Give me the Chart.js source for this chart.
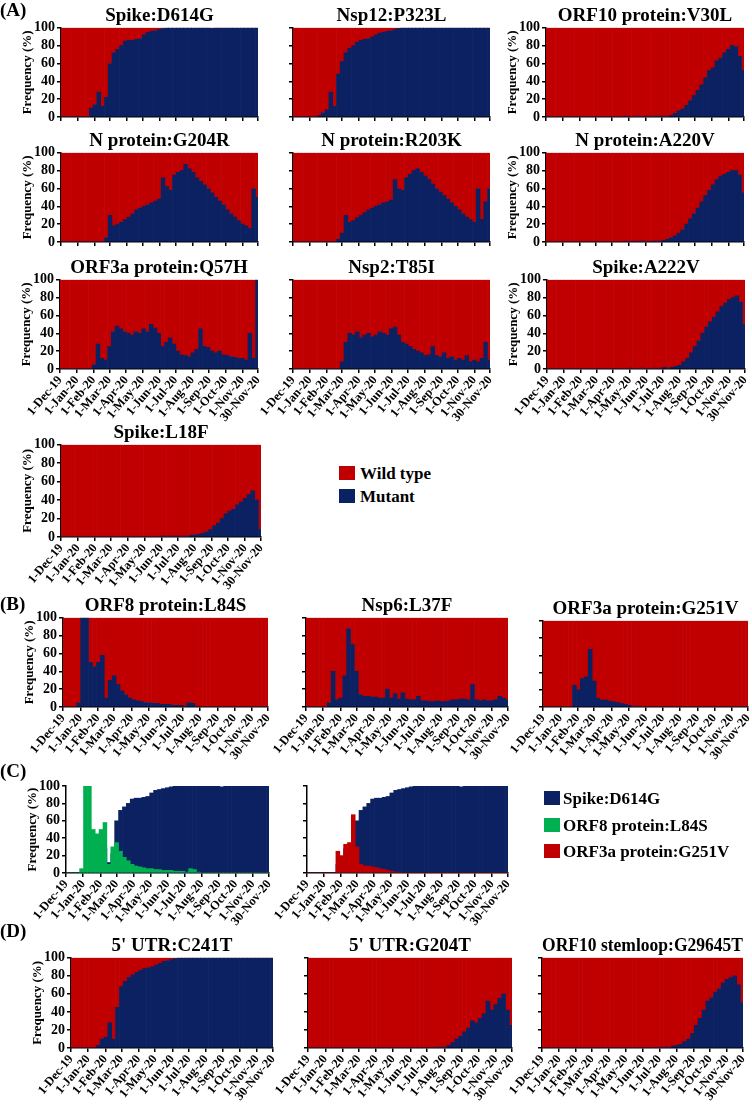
<!DOCTYPE html>
<html><head><meta charset="utf-8">
<script src="https://cdn.jsdelivr.net/npm/chart.js@4.4.0/dist/chart.umd.min.js"></script>
<style>
html,body{margin:0;padding:0;background:#fff;}
#wrap{position:relative;width:752px;height:1107px;overflow:hidden;font-family:'Liberation Serif','Times New Roman',serif;font-weight:bold;color:#000}
canvas{position:absolute}
.lbl{position:absolute;font-size:19px;line-height:1;white-space:nowrap}
.leg{position:absolute;font-size:17px;line-height:1;white-space:nowrap}
.sw{position:absolute;width:16px;height:14px}
</style></head><body><div id="wrap"></div>
<script>
// ---- data (weekly samples, day index from 1-Dec-19) ----
const weekDays = [0,7,14,21,28,35,42,49,56,63,70,77,84,91,98,105,112,119,126,133,140,147,154,161,168,175,182,189,196,203,210,217,224,231,238,245,252,259,266,273,280,287,294,301,308,315,322,329,336,343,350,357,364];
const tickDays = [0,31,62,91,122,152,183,213,244,275,305,336,365];
const tickLabels = ["1-Dec-19","1-Jan-20","1-Feb-20","1-Mar-20","1-Apr-20","1-May-20","1-Jun-20","1-Jul-20","1-Aug-20","1-Sep-20","1-Oct-20","1-Nov-20","30-Nov-20"];

const spikeD614G = [0,0,0,0,0,0,0,0,10,14,28,12,22,60,72,76,80,85,86,86,87,88,92,95,96,97,98,99,100,100,100,100,100,100,100,100,100,100,100,100,99,100,100,100,100,100,100,100,100,100,100,100,100];
const nsp12P323L = [0,0,0,0,0,0,0,2,5,8,28,12,48,62,72,77,80,84,86,87,88,90,92,94,95,96,97,98,99,100,100,100,100,100,100,100,100,100,100,100,100,100,100,100,100,100,100,100,100,100,100,100,100];
const orf10V30L = [0,0,0,0,0,0,0,0,0,0,0,0,0,0,0,0,0,0,0,0,0,1,0,0,1,0,0,1,0,1,1,1,1,2,4,7,9,13,18,24,30,36,44,52,55,63,66,72,76,80,79,68,52];
const nG204R = [0,0,0,0,0,0,0,0,0,0,0,0,5,30,18,20,22,25,28,32,36,38,40,42,44,46,48,72,62,58,75,78,80,87,82,78,72,68,64,60,55,50,46,42,36,32,28,24,20,18,15,60,50];
const nR203K = [0,0,0,0,0,0,0,0,0,0,0,0,3,10,30,22,24,27,30,33,36,38,40,42,44,45,47,70,60,58,72,76,80,82,78,74,70,65,60,56,52,48,44,40,36,32,28,25,22,60,25,45,60];
const nA220V = [0,0,0,0,0,0,0,0,0,0,0,0,0,0,0,0,0,0,0,0,0,1,0,1,0,1,1,0,1,1,1,2,3,5,7,10,14,20,26,32,38,45,52,58,64,70,74,76,78,80,80,75,55];
const orf3aQ57H = [0,0,0,0,0,0,0,0,0,5,28,12,10,25,42,48,45,42,40,38,42,40,45,42,50,46,40,25,30,35,28,20,16,15,14,18,22,45,25,24,20,18,20,16,15,14,13,12,12,10,40,12,100];
const nsp2T85I = [0,0,0,0,0,0,0,0,0,0,0,0,0,8,30,40,38,42,35,38,40,36,38,42,40,38,45,47,38,30,28,25,22,20,18,15,16,25,15,14,18,12,14,10,12,10,15,8,10,8,12,30,10];
const spikeA222V = [0,0,0,0,0,0,0,0,0,0,0,0,0,0,0,0,0,0,0,0,0,0,1,0,0,1,0,0,1,0,1,2,1,2,3,4,8,12,18,25,32,40,47,53,58,64,70,74,78,80,82,75,50];
const spikeL18F = [0,0,0,0,0,0,0,0,0,0,0,0,0,0,0,0,0,0,0,0,0,0,0,0,0,0,1,1,1,1,1,1,1,1,2,2,3,4,6,8,12,15,20,25,28,30,35,38,42,46,50,40,8];
const orf8L84S = [0,0,0,0,5,100,100,50,45,50,58,10,30,35,25,18,14,10,8,7,6,5,5,4,4,3,3,3,2,2,2,1,5,4,1,0,0,0,0,0,0,0,0,0,0,0,0,0,0,0,0,0,0];
const nsp6L37F = [0,0,0,0,0,0,5,40,8,10,35,88,70,40,14,12,12,11,11,10,10,20,10,15,9,16,9,8,8,12,7,7,6,6,7,6,6,7,8,8,9,9,8,25,8,7,8,7,7,8,12,10,8];
const orf3aG251V = [0,0,0,0,0,0,0,0,25,20,33,35,67,30,10,8,8,7,6,5,4,3,2,1,1,0,0,0,0,0,0,0,0,0,0,0,0,0,0,0,0,0,0,0,0,0,0,0,0,0,0,0,0];
const utrC241T = [0,0,0,0,0,0,0,3,10,12,28,10,45,68,74,78,81,84,86,88,89,90,92,94,96,97,98,99,100,100,100,100,100,100,100,100,100,100,100,100,100,100,100,100,100,100,100,100,100,100,100,100,100];
const utrG204T = [0,0,0,0,0,0,0,0,0,0,0,0,0,0,0,0,0,0,0,0,0,0,0,0,0,0,0,0,0,0,0,0,0,1,1,1,3,6,10,13,18,22,30,28,33,38,52,42,48,55,60,42,25];
const stemG29645T = [0,0,0,0,0,0,0,0,0,0,0,0,0,0,0,0,0,0,0,0,0,0,0,0,0,0,0,0,0,0,0,1,1,1,2,3,4,7,10,16,25,33,42,52,56,62,66,72,76,78,80,70,50];

// ---- style ----
const RED = '#C00000', NAVY = '#0B2161', GREEN = '#00B050';
const FONT = "'Liberation Serif','Times New Roman',serif";
const wrap = document.getElementById('wrap');

function pts(arr){ return weekDays.map((d,i)=>({x:d,y:arr[i]})); }
function wild(arr){ return weekDays.map((d,i)=>({x:d,y:100-arr[i]})); }

function makePanel(p){
  const titled = !!p.title;
  const TOP = titled ? 22.8 : 10;
  const YW = p.yLabels ? 61 : 45;
  const XH = p.xLabels ? 62 : 10;
  const [l,t,r,b] = p.box;
  const cl = l - YW, ct = Math.round(t - TOP);
  const w = Math.round(YW + (r - l) + 4);
  const h = Math.round(b - ct + XH);
  const cv = document.createElement('canvas');
  cv.width = w; cv.height = h;
  cv.style.left = cl + 'px'; cv.style.top = ct + 'px';
  cv.style.width = w + 'px'; cv.style.height = h + 'px';
  wrap.appendChild(cv);
  const stacked = p.kind === 'stack';
  let datasets;
  if (stacked) {
    datasets = [
      {label:'Mutant', data:pts(p.mut), backgroundColor:NAVY, clip:0},
      {label:'Wild type', data:wild(p.mut), backgroundColor:RED, clip:0}
    ];
  } else {
    datasets = [
      {label:p.frontLabel, data:pts(p.front), backgroundColor:p.frontColor, clip:0},
      {label:'Spike:D614G', data:pts(p.back), backgroundColor:NAVY, clip:0}
    ];
  }
  new Chart(cv, {
    type:'bar',
    data:{datasets},
    options:{
      responsive:false, animation:false, devicePixelRatio:1,
      layout:{padding:{top: titled?0:10, right:4, left:0, bottom:0}},
      plugins:{
        legend:{display:false}, tooltip:{enabled:false},
        title:{display:titled, text:p.title||'', fullSize:false, padding:0, color:'#000',
               font:{family:FONT, size:19, weight:'bold', lineHeight:1.2}}
      },
      datasets:{bar:{barPercentage:1, categoryPercentage:1, grouped: stacked, borderWidth:0}},
      scales:{
        x:{type:'linear', min:0, max:365, offset:false, stacked:stacked,
          grid:{display:true, drawOnChartArea:false, drawTicks:true, tickLength:4, color:'#000', lineWidth:1.5, offset:false},
          border:{display:true, color:'#000', width:1.5},
          ticks:{display:p.xLabels, autoSkip:false, maxRotation:50, minRotation:50, padding:0, color:'#000',
                 font:{family:FONT, size:12.5, weight:'bold'}, callback:(v,i)=>tickLabels[i]},
          afterBuildTicks:s=>{ s.ticks = tickDays.map(v=>({value:v})); },
          afterFit:s=>{ s.height = XH; s.paddingLeft = 0; s.paddingRight = 0; }
        },
        y:{min:0, max:100, stacked:stacked,
          grid:{display:true, drawOnChartArea:false, drawTicks:true, tickLength:4, color:'#000', lineWidth:1.5},
          border:{display:true, color:'#000', width:1.5},
          ticks:{display:p.yLabels, stepSize:20, autoSkip:false, padding:2, color:'#000', font:{family:FONT, size:14, weight:'bold'}},
          title:{display:p.yLabels, text:'Frequency (%)', color:'#000', padding:{top:20, bottom:0},
                 font:{family:FONT, size:13, weight:'bold'}},
          afterFit:s=>{ s.width = YW; s.paddingTop = 0; s.paddingBottom = 0; }
        }
      }
    }
  });
}

const panels = [
  {title:'Spike:D614G', mut:spikeD614G, box:[61,28,258,117], yLabels:true, xLabels:false, kind:'stack'},
  {title:'Nsp12:P323L', mut:nsp12P323L, box:[293,28,490,117], yLabels:false, xLabels:false, kind:'stack'},
  {title:'ORF10 protein:V30L', mut:orf10V30L, box:[546,28,744,117], yLabels:true, xLabels:false, kind:'stack'},
  {title:'N protein:G204R', mut:nG204R, box:[61,153,258,242], yLabels:true, xLabels:false, kind:'stack'},
  {title:'N protein:R203K', mut:nR203K, box:[293,153,490,242], yLabels:false, xLabels:false, kind:'stack'},
  {title:'N protein:A220V', mut:nA220V, box:[546,153,744,242], yLabels:true, xLabels:false, kind:'stack'},
  {title:'ORF3a protein:Q57H', mut:orf3aQ57H, box:[60,280,258,369], yLabels:true, xLabels:true, kind:'stack'},
  {title:'Nsp2:T85I', mut:nsp2T85I, box:[293,280,490,369], yLabels:false, xLabels:true, kind:'stack'},
  {title:'Spike:A222V', mut:spikeA222V, box:[547,280,745,369], yLabels:true, xLabels:true, kind:'stack'},
  {title:'Spike:L18F', mut:spikeL18F, box:[61,445,261,537], yLabels:true, xLabels:true, kind:'stack'},
  {title:'ORF8 protein:L84S', mut:orf8L84S, box:[63,618,268,707], yLabels:true, xLabels:true, kind:'stack'},
  {title:'Nsp6:L37F', mut:nsp6L37F, box:[306,618,508,707], yLabels:false, xLabels:true, kind:'stack'},
  {title:'ORF3a protein:G251V', mut:orf3aG251V, box:[543,621,748,707], yLabels:false, xLabels:true, kind:'stack'},
  {title:null, front:orf8L84S, frontLabel:'ORF8 protein:L84S', frontColor:GREEN, back:spikeD614G, box:[66,786,269,873], yLabels:true, xLabels:true, kind:'overlay'},
  {title:null, front:orf3aG251V, frontLabel:'ORF3a protein:G251V', frontColor:RED, back:spikeD614G, box:[307,786,508,873], yLabels:false, xLabels:true, kind:'overlay'},
  {title:"5' UTR:C241T", mut:utrC241T, box:[71,958,273,1048], yLabels:true, xLabels:true, kind:'stack'},
  {title:"5' UTR:G204T", mut:utrG204T, box:[308,958,512,1048], yLabels:false, xLabels:true, kind:'stack'},
  {title:'ORF10 stemloop:G29645T', mut:stemG29645T, box:[542,958,743,1048], yLabels:false, xLabels:true, kind:'stack'}
];
panels.forEach(makePanel);

function addText(cls, txt, x, y){
  const d = document.createElement('div'); d.className = cls; d.textContent = txt;
  d.style.left = x + 'px'; d.style.top = y + 'px'; wrap.appendChild(d);
}
function addSwatch(color, x, y){
  const d = document.createElement('div'); d.className = 'sw'; d.style.background = color;
  d.style.left = x + 'px'; d.style.top = y + 'px'; wrap.appendChild(d);
}
addText('lbl','(A)',0,0);
addText('lbl','(B)',0,594);
addText('lbl','(C)',0,761);
addText('lbl','(D)',0,921);
// legend A
addSwatch(RED,339,466); addText('leg','Wild type',360,465);
addSwatch(NAVY,339,489); addText('leg','Mutant',360,488);
// legend C
addSwatch(NAVY,544,791); addText('leg','Spike:D614G',563,790);
addSwatch(GREEN,544,818); addText('leg','ORF8 protein:L84S',563,817);
addSwatch(RED,544,844); addText('leg','ORF3a protein:G251V',563,843);
</script>
</body></html>
